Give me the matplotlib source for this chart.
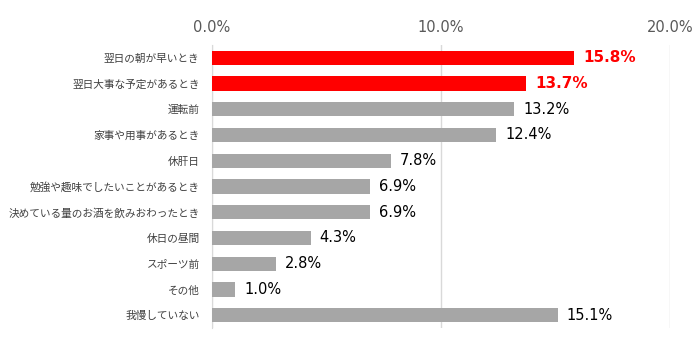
import matplotlib
matplotlib.use("Agg")
import matplotlib.pyplot as plt

plt.rcParams['font.family'] = ['Noto Sans CJK JP', 'DejaVu Sans']

categories = [
    "翌日の朝が早いとき",
    "翌日大事な予定があるとき",
    "運転前",
    "家事や用事があるとき",
    "休肝日",
    "勉強や趣味でしたいことがあるとき",
    "決めている量のお酒を飲みおわったとき",
    "休日の昼間",
    "スポーツ前",
    "その他",
    "我慢していない",
]
values = [15.8, 13.7, 13.2, 12.4, 7.8, 6.9, 6.9, 4.3, 2.8, 1.0, 15.1]
highlighted = [True, True, False, False, False, False, False, False, False, False, False]
tick_values = [0, 10, 20]
tick_labels = ["0.0%", "10.0%", "20.0%"]

RED = "#ff0000"
GRAY = "#a6a6a6"

fig = plt.figure(figsize=(7, 3.4), dpi=100)
ax = fig.add_axes([0.303, 0.035, 0.654, 0.833])

ypos = list(range(len(categories)))
colors = [RED if h else GRAY for h in highlighted]
ax.barh(ypos, values, height=0.55, color=colors, zorder=3)

for y, v, h in zip(ypos, values, highlighted):
    if h:
        ax.text(v + 0.4, y, f"{v:.1f}%", va="center", ha="left",
                fontsize=11, color=RED, fontweight="bold",
                family=["DejaVu Sans"])
    else:
        ax.text(v + 0.4, y, f"{v:.1f}%", va="center", ha="left",
                fontsize=10.5, color="#000000", family=["DejaVu Sans"])

ax.set_xlim(0, 20)
ax.set_ylim(len(categories) - 0.5, -0.5)
ax.set_yticks(ypos)
ax.set_yticklabels(categories, fontsize=7.7, color="#404040")
ax.set_xticks(tick_values)
ax.set_xticklabels(tick_labels, fontsize=10.5, color="#595959",
                   family=["DejaVu Sans"])
ax.xaxis.tick_top()
ax.tick_params(axis="both", length=0)
ax.tick_params(axis="x", pad=7)
ax.tick_params(axis="y", pad=9)
ax.grid(axis="x", color="#d9d9d9", linewidth=1, zorder=0)
for s in ["top", "right", "bottom"]:
    ax.spines[s].set_visible(False)
ax.spines["left"].set_color("#d9d9d9")

fig.savefig("out.png", dpi=100, facecolor="white")
